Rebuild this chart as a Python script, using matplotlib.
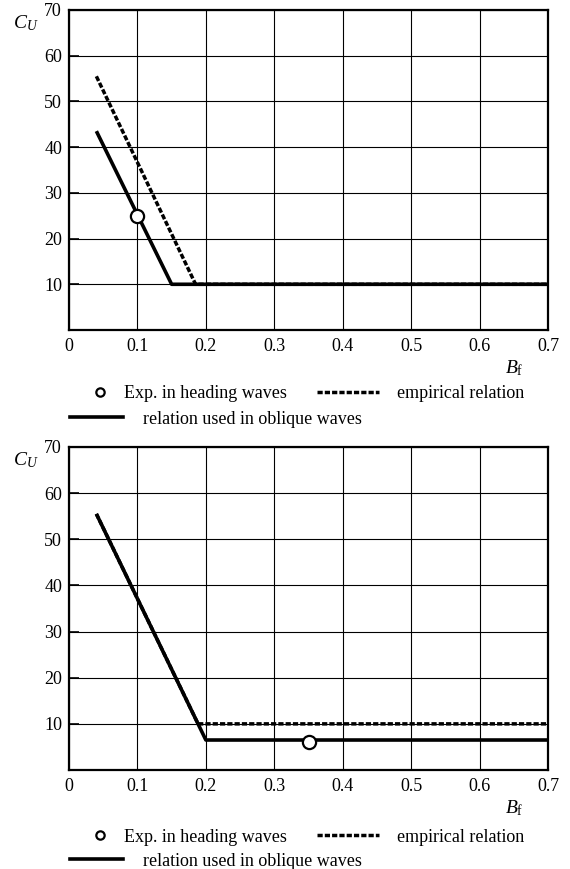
import matplotlib
matplotlib.use("Agg")
import matplotlib.pyplot as plt
from matplotlib.lines import Line2D

plt.rcParams['font.family'] = ['Liberation Serif', 'DejaVu Serif']
plt.rcParams['mathtext.fontset'] = 'custom'
plt.rcParams['mathtext.it'] = 'Liberation Serif:italic'
plt.rcParams['mathtext.rm'] = 'Liberation Serif'

# Panel (a): heading waves
top_emp_x = [0.04, 0.185, 0.70]
top_emp_y = [55.5, 10.0, 10.0]
top_obl_x = [0.04, 0.15, 0.70]
top_obl_y = [43.5, 10.0, 10.0]
top_exp_x = [0.10]
top_exp_y = [25.0]

# Panel (b)
bot_emp_x = [0.04, 0.1886, 0.70]
bot_emp_y = [55.5, 10.0, 10.0]
bot_obl_x = [0.04, 0.20, 0.70]
bot_obl_y = [55.5, 6.5, 6.5]
bot_exp_x = [0.35]
bot_exp_y = [6.0]

x_ticks = [0, 0.1, 0.2, 0.3, 0.4, 0.5, 0.6, 0.7]
x_ticklabels = ["0", "0.1", "0.2", "0.3", "0.4", "0.5", "0.6", "0.7"]
y_ticks = [10, 20, 30, 40, 50, 60, 70]
y_ticklabels = ["10", "20", "30", "40", "50", "60", "70"]

lbl_exp = "Exp. in heading waves"
lbl_emp = "empirical relation"
lbl_obl = "relation used in oblique waves"

fig = plt.figure(figsize=(5.70, 8.69), dpi=100)
W, H = 570.0, 869.0
DASH = (0, (1.5, 0.6))
FS = 13


def add_legend(handle, label, x_px, y_px, hlen, hpad):
    fig.legend([handle], [label], frameon=False, loc='center left',
               bbox_to_anchor=(x_px / W, 1 - y_px / H), fontsize=FS,
               handlelength=hlen, handletextpad=hpad,
               borderaxespad=0, borderpad=0)


def make_panel(rect, emp, obl, exp, leg_y1, leg_y2):
    ax = fig.add_axes(rect)
    ax.plot(emp[0], emp[1], color='black', lw=2.5, ls=DASH, zorder=3)
    ax.plot(obl[0], obl[1], color='black', lw=2.6, solid_capstyle='butt', zorder=4)
    ax.plot(exp[0], exp[1], 'o', ms=9.5, mfc='white', mec='black', mew=1.6, zorder=5)
    ax.set_xlim(0, 0.7)
    ax.set_ylim(0, 70)
    ax.set_xticks(x_ticks)
    ax.set_xticklabels(x_ticklabels)
    ax.set_yticks(y_ticks)
    ax.set_yticklabels(y_ticklabels)
    ax.grid(True, color='black', lw=0.8)
    ax.tick_params(axis='both', direction='in', length=0, labelsize=FS, pad=6)
    ax.tick_params(axis='y', direction='in', length=7, width=1.2, pad=5)
    for s in ax.spines.values():
        s.set_linewidth(1.6)
    ax.text(-0.063, 67.2, r'$C_U$', fontsize=14, ha='center', va='center',
            clip_on=False)
    ax.text(0.650, -8.3, r'$B_\mathrm{f}$', fontsize=14, ha='center', va='center',
            clip_on=False)

    h_exp = Line2D([], [], ls='none', marker='o', ms=6, mfc='white', mec='black', mew=1.6)
    h_emp = Line2D([], [], color='black', lw=2.5, ls=DASH)
    h_obl = Line2D([], [], color='black', lw=2.6)
    add_legend(h_exp, lbl_exp, 91, leg_y1, 1.0, 0.83)
    add_legend(h_emp, lbl_emp, 317, leg_y1, 3.43, 1.0)
    add_legend(h_obl, lbl_obl, 70, leg_y2, 2.93, 1.1)
    return ax


make_panel([69 / W, 1 - 330 / H, 479 / W, 320 / H],
           (top_emp_x, top_emp_y), (top_obl_x, top_obl_y), (top_exp_x, top_exp_y),
           394, 419)
make_panel([69 / W, 1 - 770 / H, 479 / W, 323 / H],
           (bot_emp_x, bot_emp_y), (bot_obl_x, bot_obl_y), (bot_exp_x, bot_exp_y),
           837, 861)

fig.savefig("out.png", dpi=100)
